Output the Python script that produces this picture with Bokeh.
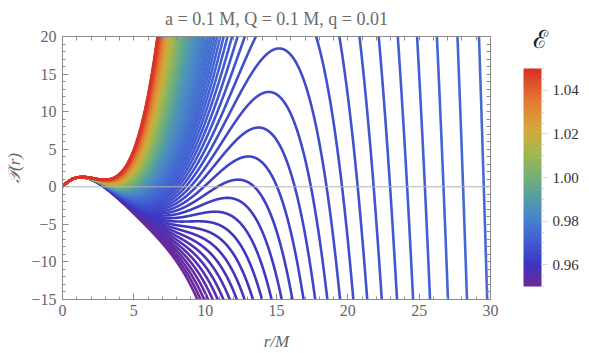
import numpy as np
from bokeh.plotting import figure
from bokeh.models import (LinearColorMapper, ColorBar, SingleIntervalTicker, FixedTicker,
                          LinearAxis, Range1d, ColumnDataSource, PrintfTickFormatter, Span)
from bokeh.embed import file_html
from bokeh.resources import INLINE

# ---- data / parameters ----
title_text = "a = 0.1 M, Q = 0.1 M, q = 0.01"
spin_a = 0.1          # a / M
charge_Q = 0.1        # Q / M
charge_q = 0.01       # specific particle charge
ang_mom_L = 0.0       # fitted to the picture
carter_K = 16.0       # fitted to the picture
norm = 14.5           # fitted vertical normalisation

energies = [0.9501, 0.9510, 0.9519, 0.9528, 0.9537, 0.9546, 0.9555, 0.9564, 0.9573, 0.9582,
            0.9591, 0.9600, 0.9609, 0.9618, 0.9627, 0.9636, 0.9645, 0.9654, 0.9663, 0.9672,
            0.9681, 0.9690, 0.9699, 0.9708, 0.9717, 0.9726, 0.9735, 0.9744, 0.9753, 0.9762,
            0.9771, 0.9780, 0.9789, 0.9798, 0.9807, 0.9816, 0.9825, 0.9834, 0.9843, 0.9852,
            0.9861, 0.9870, 0.9879, 0.9888, 0.9897, 0.9906, 0.9915, 0.9924, 0.9933, 0.9942,
            0.9951, 0.9960, 0.9969, 0.9978, 0.9987, 0.9996, 1.0005, 1.0014, 1.0023, 1.0032,
            1.0041, 1.0050, 1.0059, 1.0068, 1.0077, 1.0086, 1.0095, 1.0104, 1.0113, 1.0122,
            1.0131, 1.0140, 1.0149, 1.0158, 1.0167, 1.0176, 1.0185, 1.0194, 1.0203, 1.0212,
            1.0221, 1.0230, 1.0239, 1.0248, 1.0257, 1.0266, 1.0275, 1.0284, 1.0293, 1.0302,
            1.0311, 1.0320, 1.0329, 1.0338, 1.0347, 1.0356, 1.0365, 1.0374, 1.0383, 1.0392,
            1.0401, 1.0410, 1.0419, 1.0428, 1.0437, 1.0446, 1.0455, 1.0464, 1.0473, 1.0482,
            1.0491]

x_ticks_interval = 5
y_ticks_interval = 5
x_minor_positions = list(range(0, 31))
y_minor_positions = list(range(-15, 21))
cbar_ticks = [0.96, 0.98, 1.00, 1.02, 1.04]
cbar_minor = [0.950, 0.955, 0.960, 0.965, 0.970, 0.975, 0.980, 0.985, 0.990, 0.995, 1.000,
              1.005, 1.010, 1.015, 1.020, 1.025, 1.030, 1.035, 1.040, 1.045, 1.050]
E_low, E_high = 0.95, 1.05
y_tick_labels = {-15: "\u221215", -10: "\u221210", -5: "\u22125"}
cbar_title = "\u2130"

# Mathematica-like "Rainbow" gradient control colours
rainbow_stops = [(0.00, (0x6d, 0x29, 0x98)), (0.10, (0x3d, 0x35, 0xc0)), (0.22, (0x42, 0x62, 0xd4)),
                 (0.32, (0x4a, 0x86, 0xc8)), (0.40, (0x52, 0x9c, 0xa8)), (0.50, (0x72, 0xb0, 0x78)),
                 (0.62, (0xa6, 0xb8, 0x4c)), (0.72, (0xd3, 0xa9, 0x3c)), (0.85, (0xe3, 0x7c, 0x33)),
                 (1.00, (0xd9, 0x2e, 0x26))]


def make_palette(stops, n=256):
    ts = np.array([s[0] for s in stops])
    cols = np.array([s[1] for s in stops], dtype=float)
    out = []
    for t in np.linspace(0, 1, n):
        rgb = [np.interp(t, ts, cols[:, k]) for k in range(3)]
        out.append("#%02x%02x%02x" % tuple(int(round(v)) for v in rgb))
    return out


palette = make_palette(rainbow_stops)


def radial_P(r, E):
    a, Q, q, L, K = spin_a, charge_Q, charge_q, ang_mom_L, carter_K
    delta = r ** 2 - 2 * r + a ** 2 + Q ** 2
    pr = E * (r ** 2 + a ** 2) - a * L - q * Q * r
    return (pr ** 2 - delta * (r ** 2 + (L - a * E) ** 2 + K)) / norm


r_grid = np.linspace(0, 30, 3001)
xs, ys, cs = [], [], []
for E in energies:
    t = (E - E_low) / (E_high - E_low)
    idx = int(round(min(max(t, 0), 1) * 255))
    xs.append(r_grid)
    ys.append(np.clip(radial_P(r_grid, E), -60, 70))
    cs.append(palette[idx])

src = ColumnDataSource(dict(xs=xs, ys=ys, color=cs))

p = figure(width=589, height=353, x_range=Range1d(0, 30), y_range=Range1d(-15, 20),
           output_backend="svg", toolbar_location=None,
           min_border_left=62, min_border_right=99, min_border_top=36, min_border_bottom=52,
           title=title_text)
p.title.text_font = "Liberation Serif"
p.title.text_font_size = "18px"
p.title.text_font_style = "normal"
p.title.text_color = "#6a6a6a"
p.title.align = "center"
p.title.vertical_align = "top"
p.title.standoff = 12
p.grid.visible = False
p.outline_line_color = "#8c8c8c"
p.background_fill_color = "white"

frame_col = "#8c8c8c"
lab_col = "#666666"


def style_axis(ax, standoff):
    ax.axis_line_color = frame_col
    ax.major_tick_line_color = frame_col
    ax.minor_tick_line_color = frame_col
    ax.major_tick_in = 6
    ax.major_tick_out = 0
    ax.minor_tick_in = 3
    ax.minor_tick_out = 0
    ax.major_label_text_font = "Liberation Serif"
    ax.major_label_text_font_size = "16px"
    ax.major_label_text_color = lab_col
    ax.major_label_standoff = standoff


p.xaxis.ticker = SingleIntervalTicker(interval=x_ticks_interval, num_minor_ticks=5)
p.yaxis.ticker = SingleIntervalTicker(interval=y_ticks_interval, num_minor_ticks=5)
style_axis(p.xaxis[0], 5)
style_axis(p.yaxis[0], 6)
p.yaxis.major_label_overrides = y_tick_labels
p.xaxis.axis_label = "r/M"
p.yaxis.axis_label = "\U0001D4AB(r)"
for ax in (p.xaxis[0], p.yaxis[0]):
    ax.axis_label_text_font = "Liberation Serif"
    ax.axis_label_text_font_style = "italic"
    ax.axis_label_text_font_size = "17px"
    ax.axis_label_text_color = lab_col
p.xaxis.axis_label_standoff = 13
p.yaxis.axis_label_standoff = 4

# tick marks on the top and right edges of the frame (no labels)
top_ax = LinearAxis(ticker=FixedTicker(ticks=[], minor_ticks=x_minor_positions))
right_ax = LinearAxis(ticker=FixedTicker(ticks=[], minor_ticks=y_minor_positions))
for ax in (top_ax, right_ax):
    ax.axis_line_color = frame_col
    ax.minor_tick_line_color = frame_col
    ax.minor_tick_in = 4
    ax.minor_tick_out = 0
    ax.major_label_standoff = 0
p.add_layout(top_ax, "above")
p.add_layout(right_ax, "right")

p.add_layout(Span(location=0, dimension="width", line_color="#b4b4b4", line_width=1))

p.multi_line(xs="xs", ys="ys", line_color="color", line_width=2.6, source=src)

mapper = LinearColorMapper(palette=palette, low=E_low, high=E_high)
cbar = ColorBar(color_mapper=mapper, width=18, height=218, padding=0, margin=0,
                location=(461, 13),
                ticker=FixedTicker(ticks=cbar_ticks, minor_ticks=cbar_minor),
                formatter=PrintfTickFormatter(format="%.2f"),
                major_label_text_font="Liberation Serif", major_label_text_font_size="15px",
                major_label_text_color="#333333", label_standoff=5,
                major_tick_line_color="#d8d8d8", major_tick_in=0, major_tick_out=6,
                minor_tick_line_color="#d8d8d8", minor_tick_in=0, minor_tick_out=3,
                bar_line_color=None, border_line_color=None, background_fill_alpha=0)
p.add_layout(cbar, "center")

# heading of the colour bar: a bar-less horizontal colour bar carrying only its title
cbar_head = ColorBar(color_mapper=mapper, orientation="horizontal", width=24, height=1,
                     padding=0, margin=0, location=(470, 245), scale_alpha=0,
                     ticker=FixedTicker(ticks=[]), major_tick_line_color=None,
                     minor_tick_line_color=None, bar_line_color=None, border_line_color=None,
                     background_fill_alpha=0, title=cbar_title, title_standoff=0,
                     title_text_font="DejaVu Serif", title_text_font_size="25px",
                     title_text_font_style="normal", title_text_color="#222222")
p.add_layout(cbar_head, "center")

open("out.html", "w").write(file_html(p, INLINE))
